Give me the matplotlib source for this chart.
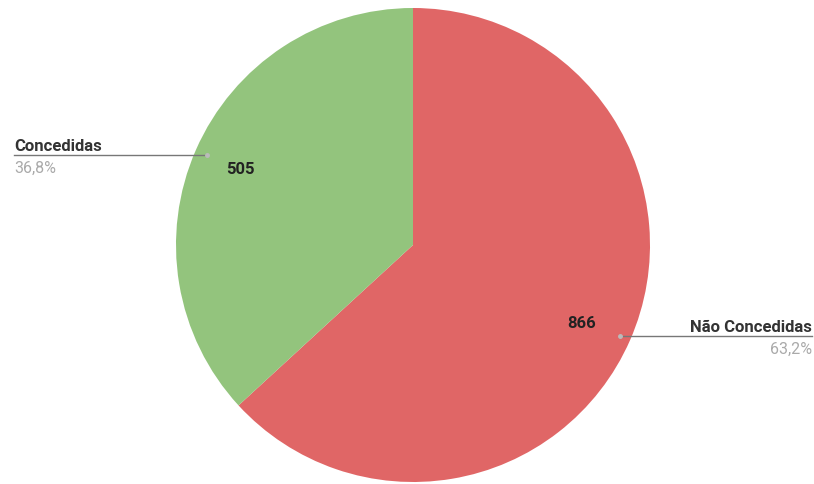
import matplotlib.pyplot as plt

labels = ['Não Concedidas', 'Concedidas']
values = [866, 505]
colors = ['#e06666', '#93c47d']

W, H = 814, 485

fig = plt.figure(figsize=(W / 100, H / 100), dpi=100)
ax = fig.add_axes([0, 0, 1, 1])

ax.pie(values, colors=colors, startangle=90, counterclock=False,
       center=(413, H - 246), radius=237,
       wedgeprops=dict(linewidth=0))
ax.set_xlim(0, W)
ax.set_ylim(0, H)
ax.set_aspect('equal')
ax.axis('off')

total = sum(values)
pct = [v / total * 100 for v in values]

# value labels inside the slices
ax.text(582, H - 324, str(values[0]), ha='center', va='center',
        fontsize=12, fontweight='bold', color='#222222', family='Roboto')
ax.text(240, H - 169, str(values[1]), ha='center', va='center',
        fontsize=12, fontweight='bold', color='#222222', family='Roboto')

# leader lines and outside labels
ax.plot([14, 207], [H - 156, H - 156], color='#777777', lw=1)
ax.plot([207], [H - 156], 'o', color='#bbbbbb', ms=2.5)
ax.text(14, H - 151, labels[1], ha='left', va='baseline', fontsize=12,
        fontweight='bold', color='#333333', family='Roboto')
ax.text(14, H - 173, ('%.1f%%' % pct[1]).replace('.', ','), ha='left', va='baseline',
        fontsize=11.5, color='#aaaaaa', family='Roboto')

ax.plot([620, 812], [H - 337, H - 337], color='#777777', lw=1)
ax.plot([620], [H - 337], 'o', color='#bbbbbb', ms=2.5)
ax.text(812, H - 332, labels[0], ha='right', va='baseline', fontsize=12,
        fontweight='bold', color='#333333', family='Roboto')
ax.text(812, H - 354, ('%.1f%%' % pct[0]).replace('.', ','), ha='right', va='baseline',
        fontsize=11.5, color='#aaaaaa', family='Roboto')

fig.savefig('out.png', dpi=100, facecolor='white')
